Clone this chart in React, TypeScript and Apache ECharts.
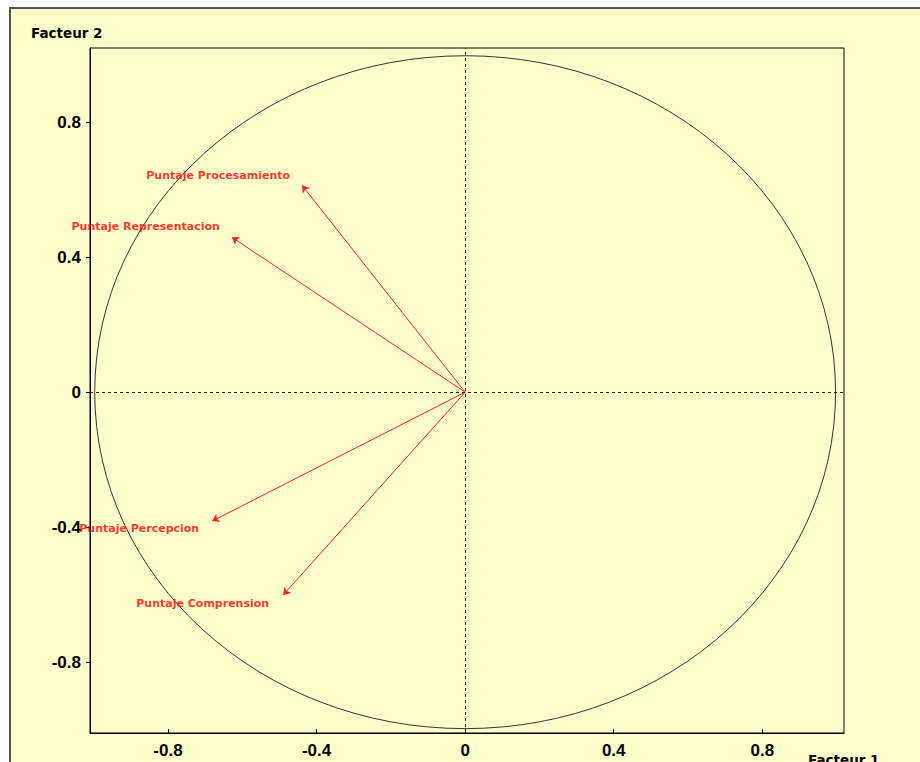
import React, { useEffect, useRef } from "react";
import * as echarts from "echarts";

const variables = [
  "Puntaje Procesamiento",
  "Puntaje Representacion",
  "Puntaje Percepcion",
  "Puntaje Comprension",
];
const factor1 = [-0.439, -0.628, -0.681, -0.49];
const factor2 = [0.613, 0.459, -0.382, -0.601];
const xTicks = [-0.8, -0.4, 0, 0.4, 0.8];
const yTicks = [-0.8, -0.4, 0, 0.4, 0.8];
const circleCenter = [0, 0];
const circleRadius = 1;
const xAxisName = "Facteur 1";
const yAxisName = "Facteur 2";

// label offsets (style only)
const labelOffsets = [
  [-12, -10],
  [-12, -11],
  [-13, 7],
  [-14, 9],
];

const BG = "#FFFFCC";
const tickFont = {
  color: "#000",
  fontFamily: "Liberation Sans, Arial, sans-serif",
  fontWeight: "bold" as const,
  fontSize: 17,
};

export default function App() {
  const ref = useRef<HTMLDivElement>(null);
  useEffect(() => {
    if (!ref.current) return;
    const chart = echarts.init(ref.current, undefined, { renderer: "svg" });
    const option: any = {
      animation: false,
      backgroundColor: "#FFFFFF",
      graphic: [
        {
          type: "rect",
          z: -10,
          shape: { x: 10, y: 8, width: 930, height: 780 },
          style: { fill: BG, stroke: "#555", lineWidth: 2 },
          silent: true,
        },
        {
          type: "text",
          left: 31,
          top: 26,
          style: {
            text: yAxisName,
            fill: "#000",
            font: "bold 13.5px 'DejaVu Sans', Verdana, sans-serif",
          },
        },
        {
          type: "text",
          left: 808,
          top: 753,
          style: {
            text: xAxisName,
            fill: "#000",
            font: "bold 13.5px 'DejaVu Sans', Verdana, sans-serif",
          },
        },
      ],
      grid: {
        left: 90,
        top: 48,
        right: 76,
        bottom: 29,
        show: true,
        borderColor: "#000",
        borderWidth: 1,
        backgroundColor: "transparent",
        containLabel: false,
      },
      xAxis: {
        type: "value",
        min: -1.01,
        max: 1.02,
        axisLine: { show: true, onZero: false, lineStyle: { color: "#000" } },
        axisTick: {
          show: true,
          inside: true,
          length: 4,
          customValues: xTicks,
          lineStyle: { color: "#000" },
        },
        axisLabel: { ...tickFont, margin: 9, customValues: xTicks },
        splitLine: { show: false },
      },
      yAxis: {
        type: "value",
        min: -1.01,
        max: 1.02,
        axisLine: { show: true, onZero: false, lineStyle: { color: "#000" } },
        axisTick: {
          show: true,
          length: 4,
          customValues: yTicks,
          lineStyle: { color: "#000" },
        },
        axisLabel: { ...tickFont, margin: 9, customValues: yTicks },
        splitLine: { show: false },
      },
      series: [
        {
          type: "custom",
          silent: true,
          data: [[circleCenter[0], circleCenter[1], circleRadius]],
          renderItem: (params: any, api: any) => {
            const cx = api.value(0);
            const cy = api.value(1);
            const r = api.value(2);
            const c = api.coord([cx, cy]);
            const px = api.coord([cx + r, cy]);
            const py = api.coord([cx, cy + r]);
            return {
              type: "ellipse",
              shape: { cx: c[0], cy: c[1], rx: px[0] - c[0] - 1, ry: c[1] - py[1] - 1 },
              style: { fill: "none", stroke: "#333", lineWidth: 1 },
            };
          },
          markLine: {
            silent: true,
            symbol: "none",
            label: { show: false },
            lineStyle: { color: "#222", type: [3, 3], width: 1 },
            data: [{ xAxis: 0 }, { yAxis: 0 }],
          },
        },
        {
          type: "lines",
          coordinateSystem: "cartesian2d",
          silent: true,
          symbol: ["none", "arrow"],
          symbolSize: 7,
          lineStyle: { color: "#FF2020", width: 1, opacity: 1 },
          data: variables.map((_, i) => ({
            coords: [
              [0, 0],
              [factor1[i], factor2[i]],
            ],
          })),
        },
        {
          type: "scatter",
          symbolSize: 0,
          silent: true,
          data: variables.map((name, i) => ({
            name,
            value: [factor1[i], factor2[i]],
            label: { offset: labelOffsets[i] },
          })),
          label: {
            show: true,
            position: "left",
            distance: 0,
            formatter: (p: any) => p.name,
            color: "#FF0000",
            fontFamily: "'DejaVu Sans', Verdana, sans-serif",
            fontWeight: "bold",
            fontSize: 11,
          },
        },
      ],
    };
    chart.setOption(option);
    return () => chart.dispose();
  }, []);
  return (
    <div
      ref={ref}
      style={{ position: "absolute", left: 0, top: 0, width: 920, height: 762 }}
    />
  );
}
